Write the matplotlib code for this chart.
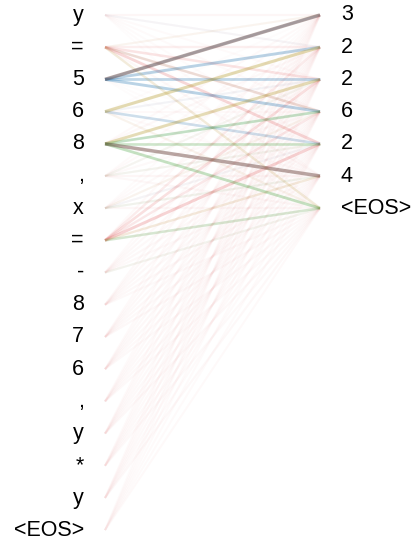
import numpy as np
import matplotlib
matplotlib.use("Agg")
import matplotlib.pyplot as plt

# source / target tokens
src_tokens = ['y', '=', '5', '6', '8', ',', 'x', '=', '-', '8', '7', '6', ',', 'y', '*', 'y', '<EOS>']
tgt_tokens = ['3', '2', '2', '6', '2', '4', '<EOS>']

# faint "red" attention: one row per target, one value per source token
red_attn = [
    [0.10, 0.06, 0.04, 0.03, 0.06, 0.05, 0.04, 0.06, 0.05, 0.07, 0.06, 0.06, 0.05, 0.06, 0.05, 0.06, 0.04],
    [0.06, 0.18, 0.05, 0.05, 0.08, 0.06, 0.05, 0.22, 0.07, 0.08, 0.07, 0.07, 0.06, 0.07, 0.06, 0.06, 0.05],
    [0.05, 0.30, 0.04, 0.05, 0.06, 0.08, 0.07, 0.35, 0.08, 0.07, 0.08, 0.07, 0.07, 0.06, 0.07, 0.06, 0.05],
    [0.05, 0.35, 0.04, 0.06, 0.05, 0.07, 0.08, 0.25, 0.07, 0.08, 0.07, 0.08, 0.07, 0.07, 0.06, 0.07, 0.05],
    [0.04, 0.45, 0.03, 0.05, 0.05, 0.08, 0.07, 0.50, 0.08, 0.07, 0.08, 0.07, 0.06, 0.07, 0.07, 0.06, 0.05],
    [0.04, 0.08, 0.03, 0.05, 0.06, 0.10, 0.08, 0.12, 0.07, 0.08, 0.07, 0.06, 0.07, 0.06, 0.06, 0.05, 0.05],
    [0.03, 0.06, 0.03, 0.06, 0.05, 0.08, 0.09, 0.10, 0.08, 0.07, 0.08, 0.07, 0.07, 0.08, 0.07, 0.08, 0.06],
]

# sparser heads: (target, source, weight)
blue_attn = [(0, 2, 0.30), (1, 2, 0.50), (2, 2, 0.45), (3, 2, 0.50), (4, 3, 0.35),
             (1, 0, 0.06), (2, 3, 0.08), (3, 4, 0.08), (4, 6, 0.06)]
olive_attn = [(1, 3, 0.60), (2, 4, 0.55), (6, 1, 0.25), (5, 7, 0.20), (0, 1, 0.08),
              (3, 6, 0.08), (6, 3, 0.10)]
green_attn = [(3, 4, 0.40), (4, 4, 0.38), (6, 4, 0.45), (6, 7, 0.30), (3, 1, 0.10),
              (4, 5, 0.08), (5, 6, 0.10), (2, 5, 0.06), (6, 8, 0.08)]
brown_attn = [(0, 2, 0.80), (5, 4, 0.80)]

fig = plt.figure(figsize=(4.17, 5.43), dpi=100)
ax = fig.add_axes([0, 0, 1, 1])
ax.set_xlim(0, 417)
ax.set_ylim(543, 0)
ax.axis('off')

x_left, x_right = 105, 320
top, step = 15, 32.2
src_y = top + step * np.arange(len(src_tokens))
tgt_y = top + step * np.arange(len(tgt_tokens))


def draw(j, i, w, color, scale):
    ax.plot([x_left, x_right], [src_y[i], tgt_y[j]], color=color, alpha=w * scale,
            lw=1.4 + 1.4 * w, solid_capstyle='butt')


for j, row in enumerate(red_attn):
    for i, w in enumerate(row):
        draw(j, i, w, 'tab:red', 0.4)
for entries, color in [(blue_attn, 'tab:blue'), (olive_attn, '#b5a030'),
                       (green_attn, 'tab:green'), (brown_attn, '#6e4a44')]:
    for j, i, w in entries:
        draw(j, i, w, color, 0.6)

for tok, y in zip(src_tokens, src_y):
    ax.text(84, y, tok, ha='right', va='center', fontsize=15.5, family='Liberation Sans')
for tok, y in zip(tgt_tokens, tgt_y):
    ax.text(341, y, tok, ha='left', va='center', fontsize=15.5, family='Liberation Sans')

fig.savefig('out.png', dpi=100)
